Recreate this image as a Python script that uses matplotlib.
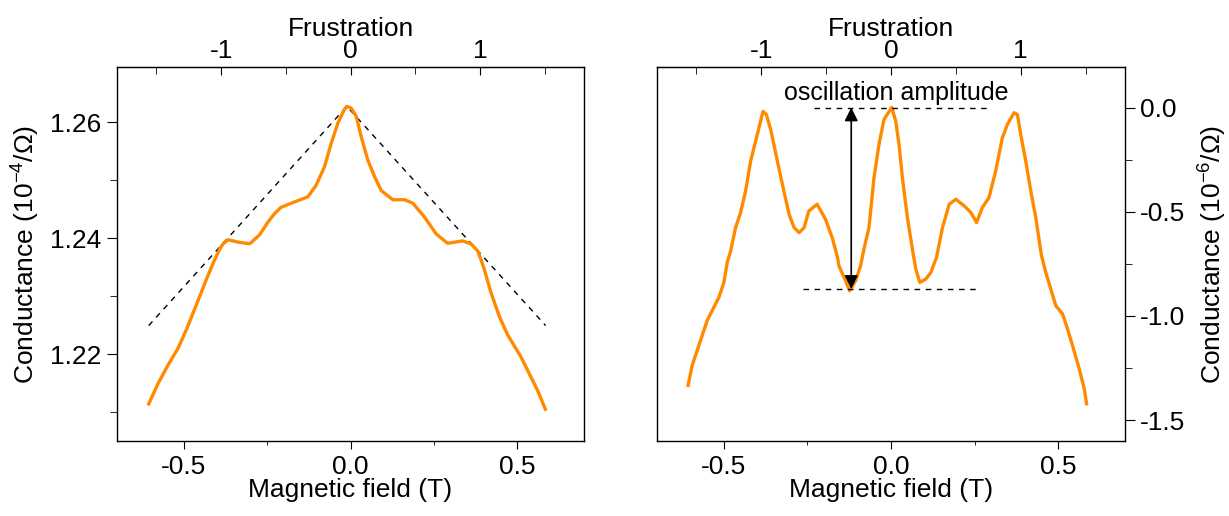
import matplotlib

matplotlib.use("Agg")
import matplotlib.pyplot as plt
from matplotlib.ticker import FixedLocator, MultipleLocator

plt.rcParams["font.family"] = ["Liberation Sans", "DejaVu Sans"]
plt.rcParams["mathtext.fontset"] = "custom"
plt.rcParams["mathtext.rm"] = "Liberation Sans"
plt.rcParams["mathtext.it"] = "Liberation Sans:italic"
plt.rcParams["axes.unicode_minus"] = False

ORANGE = "#ff8a00"
FS = 19

# field period of one flux quantum per cell (T)
period = 0.388

# left panel: total conductance (1e-4 / Ohm)
left_field = [
    -0.605, -0.577, -0.547, -0.517, -0.492, -0.462, -0.432, -0.407, -0.392, -0.382,
    -0.367, -0.337, -0.302, -0.272, -0.248, -0.228, -0.208, -0.178, -0.128, -0.103,
    -0.078, -0.058, -0.038, -0.020, -0.011, 0.002, 0.017, 0.032, 0.052, 0.072,
    0.092, 0.127, 0.162, 0.187, 0.222, 0.257, 0.291, 0.336, 0.361, 0.381,
    0.391, 0.401, 0.421, 0.446, 0.471, 0.511, 0.536, 0.561, 0.584,
]
left_g = [
    1.2114, 1.2149, 1.2181, 1.2210, 1.2242, 1.2285, 1.2329, 1.2363, 1.2381, 1.2390,
    1.2397, 1.2393, 1.2390, 1.2406, 1.2427, 1.2442, 1.2453, 1.2460, 1.2471, 1.2491,
    1.2523, 1.2563, 1.2598, 1.2620, 1.2627, 1.2624, 1.2610, 1.2575, 1.2534, 1.2506,
    1.2482, 1.2466, 1.2466, 1.2460, 1.2436, 1.2407, 1.2391, 1.2395, 1.2390, 1.2378,
    1.2363, 1.2346, 1.2306, 1.2265, 1.2233, 1.2195, 1.2166, 1.2137, 1.2105,
]
guide_field = [-0.605, -0.011, 0.585]
guide_g = [1.2249, 1.2627, 1.2249]

# right panel: conductance after background removal (1e-6 / Ohm)
right_field = [
    -0.607, -0.595, -0.575, -0.550, -0.530, -0.515, -0.500, -0.490, -0.480, -0.465,
    -0.450, -0.435, -0.420, -0.400, -0.383, -0.373, -0.360, -0.340, -0.325, -0.305,
    -0.290, -0.275, -0.260, -0.246, -0.221, -0.196, -0.176, -0.160, -0.156, -0.136,
    -0.124, -0.106, -0.091, -0.081, -0.066, -0.051, -0.036, -0.021, 0.002, 0.014,
    0.024, 0.034, 0.049, 0.064, 0.074, 0.086, 0.104, 0.119, 0.136, 0.154,
    0.174, 0.194, 0.219, 0.239, 0.256, 0.273, 0.293, 0.313, 0.333, 0.348,
    0.368, 0.378, 0.388, 0.403, 0.418, 0.433, 0.450, 0.463, 0.478, 0.493,
    0.513, 0.528, 0.543, 0.563, 0.578, 0.585,
]
right_dg = [
    -1.333, -1.238, -1.142, -1.022, -0.958, -0.911, -0.839, -0.743, -0.690, -0.576,
    -0.504, -0.400, -0.257, -0.129, -0.018, -0.033, -0.105, -0.257, -0.368, -0.512,
    -0.576, -0.600, -0.576, -0.496, -0.464, -0.536, -0.624, -0.719, -0.759, -0.831,
    -0.879, -0.831, -0.759, -0.679, -0.576, -0.337, -0.177, -0.057, 0.001, -0.065,
    -0.177, -0.337, -0.528, -0.680, -0.775, -0.839, -0.823, -0.791, -0.719, -0.576,
    -0.464, -0.440, -0.472, -0.504, -0.552, -0.480, -0.432, -0.305, -0.145, -0.081,
    -0.025, -0.033, -0.129, -0.257, -0.400, -0.528, -0.710, -0.791, -0.871, -0.951,
    -0.990, -1.062, -1.142, -1.254, -1.349, -1.421,
]
amp_top = 0.0
amp_bottom = -0.87
amp_field = -0.119
top_span = [-0.23, 0.29]
bottom_span = [-0.263, 0.254]


def style_axes(ax, side):
    for s in ax.spines.values():
        s.set_linewidth(1.0)
    ax.set_xlim(-0.7, 0.7)
    ax.xaxis.set_major_locator(FixedLocator([-0.5, 0.0, 0.5]))
    ax.xaxis.set_minor_locator(FixedLocator([-0.25, 0.25]))
    ax.xaxis.set_major_formatter(plt.FuncFormatter(lambda v, p: f"{v:.1f}"))
    ax.tick_params(axis="x", which="both", direction="out", labelsize=FS, pad=4)
    ax.tick_params(axis="x", which="major", length=6)
    ax.tick_params(axis="x", which="minor", length=3)
    if side == "right":
        ax.yaxis.tick_right()
        ax.yaxis.set_label_position("right")
    ax.tick_params(axis="y", which="both", direction="out", labelsize=FS, pad=4)
    ax.tick_params(axis="y", which="major", length=7)
    ax.tick_params(axis="y", which="minor", length=5)
    ax.set_xlabel("Magnetic field (T)", fontsize=FS, labelpad=-1)

    top = ax.secondary_xaxis("top", functions=(lambda b: b / period, lambda f: f * period))
    top.xaxis.set_major_locator(FixedLocator([-1, 0, 1]))
    top.xaxis.set_minor_locator(FixedLocator([-1.5, -0.5, 0.5, 1.5]))
    top.xaxis.set_major_formatter(plt.FuncFormatter(lambda v, p: f"{v:.0f}"))
    top.tick_params(which="both", direction="in", labelsize=FS, pad=3)
    top.tick_params(which="major", length=6)
    top.tick_params(which="minor", length=5)
    top.set_xlabel("Frustration", fontsize=FS, labelpad=2)
    return top


fig = plt.figure(figsize=(12.29, 5.16), dpi=100)
ax1 = fig.add_axes([0.0952, 0.1453, 0.380, 0.725])
ax2 = fig.add_axes([0.5346, 0.1453, 0.3808, 0.725])

# left panel
ax1.plot(guide_field, guide_g, color="black", lw=1.0, ls=(0, (4, 4)))
ax1.plot(left_field, left_g, color=ORANGE, lw=2.4)
ax1.set_ylim(1.205, 1.2695)
ax1.yaxis.set_major_locator(MultipleLocator(0.02))
ax1.yaxis.set_minor_locator(FixedLocator([1.21, 1.23, 1.25]))
ax1.yaxis.set_major_formatter(plt.FuncFormatter(lambda v, p: f"{v:.2f}"))
style_axes(ax1, "left")
ax1.set_ylabel("Conductance (10$^{-4}$/Ω)", fontsize=FS, labelpad=6)

# right panel
ax2.plot(right_field, right_dg, color=ORANGE, lw=2.4)
ax2.plot(top_span, [amp_top, amp_top], color="black", lw=1.0, ls=(0, (4, 4)))
ax2.plot(bottom_span, [amp_bottom, amp_bottom], color="black", lw=1.0, ls=(0, (4, 4)))
ax2.annotate(
    "", xy=(amp_field, amp_top), xytext=(amp_field, amp_bottom),
    arrowprops=dict(arrowstyle="<|-|>", color="black", lw=1.2,
                    mutation_scale=20, shrinkA=0, shrinkB=0),
)
ax2.text(0.015, 0.012, "oscillation amplitude", fontsize=18, ha="center", va="bottom")
ax2.set_ylim(-1.6, 0.195)
ax2.yaxis.set_major_locator(FixedLocator([-1.5, -1.0, -0.5, 0.0]))
ax2.yaxis.set_minor_locator(FixedLocator([-1.25, -0.75, -0.25]))
ax2.yaxis.set_major_formatter(plt.FuncFormatter(lambda v, p: f"{v:.1f}"))
style_axes(ax2, "right")
ax2.set_ylabel("Conductance (10$^{-6}$/Ω)", fontsize=FS, labelpad=8)

fig.savefig("out.png", dpi=100)
